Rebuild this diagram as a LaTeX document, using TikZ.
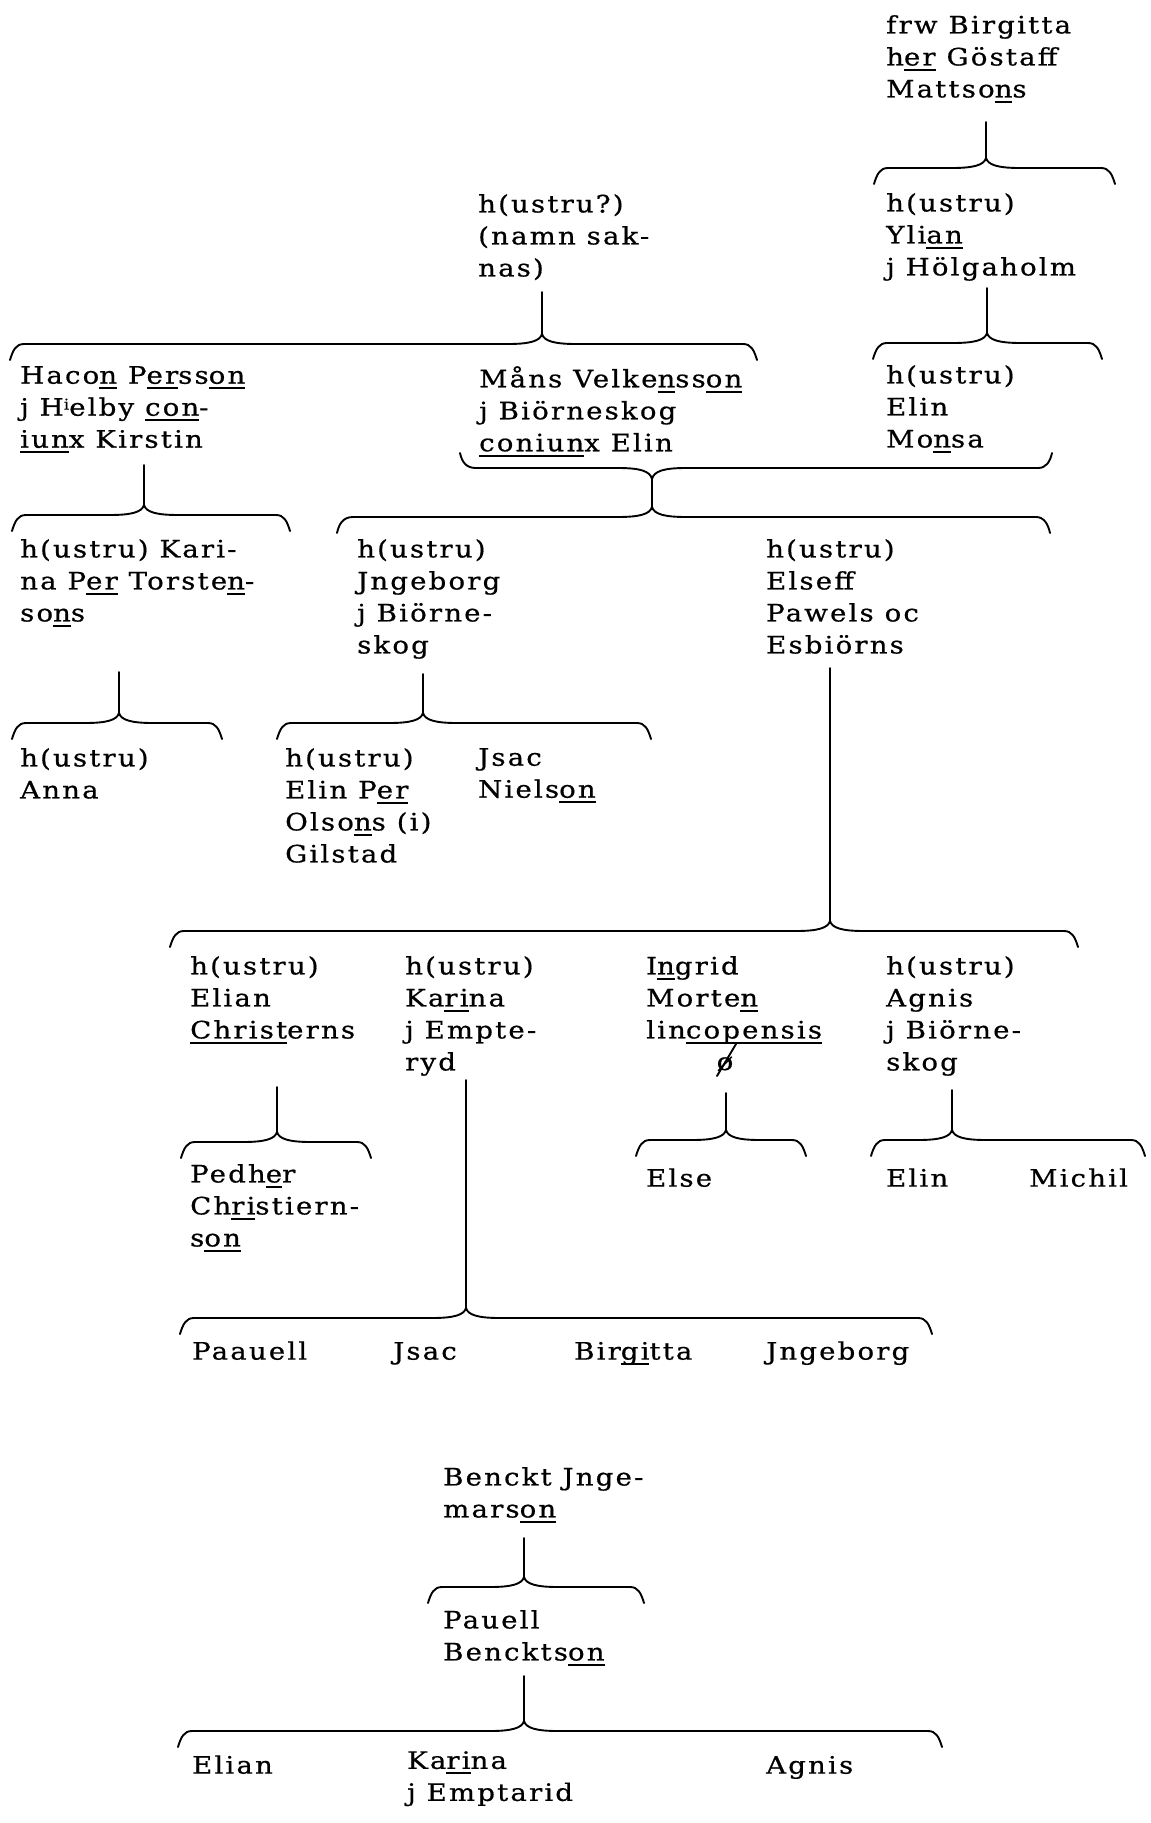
\documentclass[tikz,border=0pt]{standalone}
\usepackage{fontspec}
\setmainfont{DejaVu Serif}[FakeStretch=1.15,LetterSpace=9,FakeBold=0.6]
\newcommand\ul[1]{\setbox0\hbox{#1}\rlap{\rule[-5.5pt]{\wd0}{1.9pt}}\box0\relax}
\newcommand\famBrace[6]{%
  \coordinate (#6-top) at (#3,#5);
  \coordinate (#6-cusp) at (#3,#4-10);
  \coordinate (#6-l) at (#1,#4+16);
  \coordinate (#6-r) at (#2,#4+16);
  \draw[brace line] (#6-top) -- (#6-cusp);
  \draw[brace line] (#6-l) .. controls (#1+3,#4+6) and (#1+6,#4) .. (#1+14,#4)
    -- (#3-34,#4) .. controls (#3-12,#4) and (#3-2,#4-3) .. (#6-cusp)
    .. controls (#3+2,#4-3) and (#3+12,#4) .. (#3+34,#4)
    -- (#2-14,#4) .. controls (#2-6,#4) and (#2-3,#4+6) .. (#6-r);
}
\begin{document}
\begin{tikzpicture}[x=1pt,y=-1pt,
  person/.style={anchor=north west, inner sep=0pt, align=left,
    font=\fontsize{24}{32}\selectfont, execute at begin node=\strut},
  brace line/.style={line width=1.9pt, line cap=round, line join=round}]
\fill[white] (0,0) rectangle (1151,1823);
\useasboundingbox (0,0) rectangle (1151,1823);

% ---- texts ----
\node[person] (frw) at (886,15) {frw Birgitta\\h\ul{er} Göstaff\\Mattso\ul{n}s};
\node[person] (ylian) at (886,193) {h(ustru)\\Yli\ul{an}\\j Hölgaholm};
\node[person] (elinmonsa) at (886,365) {h(ustru)\\Elin\\Mo\ul{n}sa};
\node[person] (unknown) at (478,194) {h(ustru?)\\(namn sak-\\nas)};
\node[person] (hacon) at (20,366) {Haco\ul{n} P\ul{er}ss\ul{on}\\j H\raisebox{6pt}{\fontsize{15}{15}\selectfont i}elby \ul{con}-\\\ul{iun}x Kirstin};
\node[person] (mans) at (479,366) {Måns Velke\ul{n}ss\ul{on}\\j Biörneskog\\\ul{coniun}x Elin};
\node[person] (karinaP) at (20,539) {h(ustru) Kari-\\na P\ul{er} Torste\ul{n}-\\so\ul{n}s};
\node[person] (jngeborg) at (357,539) {h(ustru)\\Jngeborg\\j Biörne-\\skog};
\node[person] (elseff) at (766,539) {h(ustru)\\Elseff\\Pawels oc\\Esbiörns};
\node[person] (anna) at (20,748) {h(ustru)\\Anna};
\node[person] (elinper) at (285,748) {h(ustru)\\Elin P\ul{er}\\Olso\ul{n}s (i)\\Gilstad};
\node[person] (jsacN) at (478,748) {Jsac\\Niels\ul{on}};
\node[person] (elianC) at (190,956) {h(ustru)\\Elian\\\ul{Christ}erns};
\node[person] (karinaE) at (405,956) {h(ustru)\\Ka\ul{ri}na\\j Empte-\\ryd};
\node[person] (ingrid) at (646,956) {I\ul{n}grid\\Morte\ul{n}\\lin\ul{copensis}};
\node[anchor=base, inner sep=0pt, font=\fontsize{24}{32}\selectfont] (phi) at (725,1070) {ø};
\node[person] (agnisB) at (886,956) {h(ustru)\\Agnis\\j Biörne-\\skog};
\node[person] (pedher) at (190,1164) {Pedh\ul{e}r\\Ch\ul{ri}stiern-\\s\ul{on}};
\node[person] (else) at (646,1164) {Else};
\node[person] (elinA) at (886,1164) {Elin};
\node[person] (michil) at (1029,1164) {Michil};
\node[person] (paauell) at (192,1337) {Paauell};
\node[person] (jsacK) at (393,1337) {Jsac};
\node[person] (birgitta) at (574,1337) {Bir\ul{gi}tta};
\node[person] (jngeborgK) at (766,1337) {Jngeborg};
\node[person] (benckt) at (443,1467) {Benckt Jnge-\\mars\ul{on}};
\node[person] (pauell) at (443,1610) {Pauell\\Benckts\ul{on}};
\node[person] (elianB) at (192,1751) {Elian};
\node[person] (karinaB) at (407,1751) {Ka\ul{ri}na\\j Emptarid};
\node[person] (agnisP) at (766,1751) {Agnis};

\draw[brace line] (717,1076) -- (736,1044);

% ---- braces ----
\famBrace{874}{1115}{986}{168}{122}{b1}
\famBrace{873}{1102}{987}{343}{288}{b2}
\famBrace{10}{757}{542}{344}{292}{b3}
\famBrace{12}{290}{144}{515}{465}{b4}
\famBrace{12}{222}{119}{723}{672}{b5}
\famBrace{277}{651}{423}{723}{674}{b6}
\famBrace{170}{1078}{830}{931}{668}{b8}
\famBrace{181}{371}{277}{1142}{1087}{b9}
\famBrace{180}{932}{466}{1318}{1080}{b10}
\famBrace{636}{806}{726}{1140}{1093}{b11}
\famBrace{871}{1145}{952}{1140}{1090}{b12}
\famBrace{428}{644}{524}{1587}{1538}{b13}
\famBrace{178}{942}{524}{1731}{1676}{b14}

% ---- double brace (couple -> children) ----
\coordinate (dbU) at (652,479);
\coordinate (dbD) at (652,507);
\draw[brace line] (460,453) .. controls (462,462) and (466,468) .. (476,468)
  -- (618,468) .. controls (640,468) and (650,471) .. (dbU)
  .. controls (654,471) and (664,468) .. (686,468)
  -- (1038,468) .. controls (1046,468) and (1050,462) .. (1052,453);
\draw[brace line] (dbU) -- (dbD);
\draw[brace line] (337,533) .. controls (339,524) and (343,517) .. (353,517)
  -- (618,517) .. controls (640,517) and (650,514) .. (dbD)
  .. controls (654,514) and (664,517) .. (686,517)
  -- (1036,517) .. controls (1044,517) and (1048,524) .. (1050,533);
\end{tikzpicture}
\end{document}
